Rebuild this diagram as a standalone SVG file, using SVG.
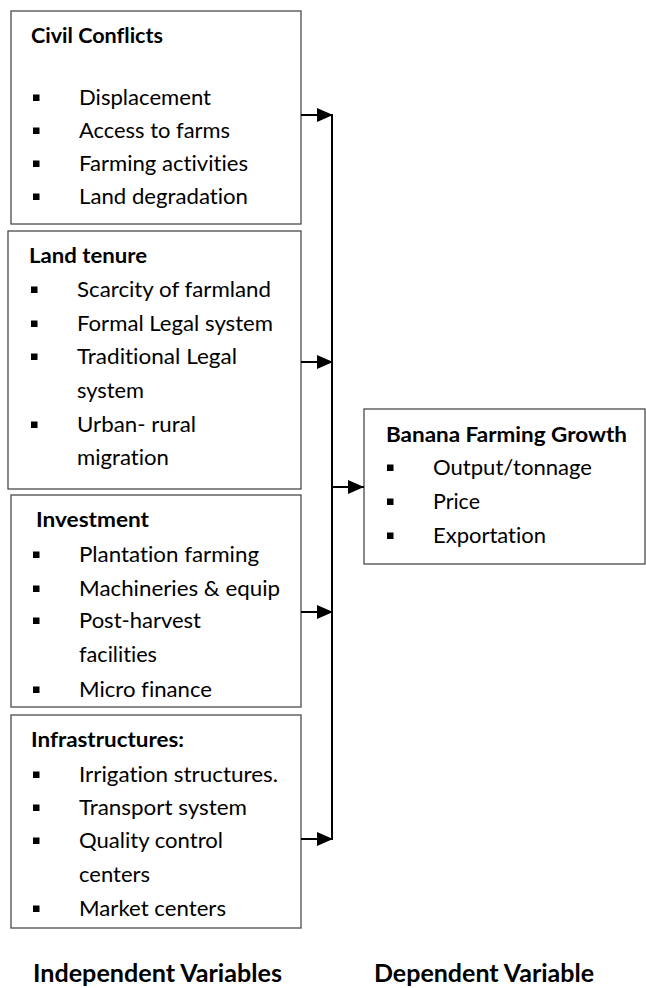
<svg xmlns="http://www.w3.org/2000/svg" width="646" height="988" viewBox="0 0 646 988">
  <defs>
    <style>
      .box { fill: #ffffff; stroke: #4a4a4a; stroke-width: 1.3; }
      .t { font-family: Lato, "Open Sans", "Liberation Sans", sans-serif; font-size: 20.5px; fill: #000; font-variant-ligatures: none; font-feature-settings: "liga" 0, "clig" 0; }
      .b { font-weight: bold; }
      .lbl { font-family: Lato, "Open Sans", "Liberation Sans", sans-serif; font-size: 25px; font-weight: bold; fill: #000; font-variant-ligatures: none; font-feature-settings: "liga" 0, "clig" 0; }
      .bul { fill: #000; }
      .conn { stroke: #000; stroke-width: 2; fill: none; }
    </style>
    <marker id="arrow" markerUnits="userSpaceOnUse" markerWidth="16" markerHeight="14" refX="16" refY="7" orient="auto">
      <path d="M0,0 L16,7 L0,14 Z" fill="#000"/>
    </marker>
  </defs>
  <rect width="646" height="988" fill="#ffffff"/>

  <g id="civil-conflicts">
    <rect class="box" x="11" y="11" width="290" height="213"/>
    <text class="t b" x="31" y="43" textLength="132" lengthAdjust="spacingAndGlyphs">Civil Conflicts</text>
    <rect class="bul" x="33" y="94.5" width="6.5" height="6.5"/>
    <text class="t" x="79" y="105" textLength="132" lengthAdjust="spacingAndGlyphs">Displacement</text>
    <rect class="bul" x="33" y="127.5" width="6.5" height="6.5"/>
    <text class="t" x="79" y="138" textLength="151" lengthAdjust="spacingAndGlyphs">Access to farms</text>
    <rect class="bul" x="33" y="160.5" width="6.5" height="6.5"/>
    <text class="t" x="79" y="171" textLength="169" lengthAdjust="spacingAndGlyphs">Farming activities</text>
    <rect class="bul" x="33" y="193.5" width="6.5" height="6.5"/>
    <text class="t" x="79" y="204" textLength="169" lengthAdjust="spacingAndGlyphs">Land degradation</text>
  </g>

  <g id="land-tenure">
    <rect class="box" x="8" y="231" width="293" height="258"/>
    <text class="t b" x="29" y="263" textLength="118" lengthAdjust="spacingAndGlyphs">Land tenure</text>
    <rect class="bul" x="31" y="286.5" width="6.5" height="6.5"/>
    <text class="t" x="77" y="297" textLength="194" lengthAdjust="spacingAndGlyphs">Scarcity of farmland</text>
    <rect class="bul" x="31" y="320.5" width="6.5" height="6.5"/>
    <text class="t" x="77" y="331" textLength="196" lengthAdjust="spacingAndGlyphs">Formal Legal system</text>
    <rect class="bul" x="31" y="353.5" width="6.5" height="6.5"/>
    <text class="t" x="77" y="364" textLength="160" lengthAdjust="spacingAndGlyphs">Traditional Legal</text>
    <text class="t" x="77" y="398" textLength="67" lengthAdjust="spacingAndGlyphs">system</text>
    <rect class="bul" x="31" y="421.5" width="6.5" height="6.5"/>
    <text class="t" x="77" y="432" textLength="119" lengthAdjust="spacingAndGlyphs">Urban- rural</text>
    <text class="t" x="77" y="465" textLength="92" lengthAdjust="spacingAndGlyphs">migration</text>
  </g>

  <g id="investment">
    <rect class="box" x="11" y="495" width="290" height="212"/>
    <text class="t b" x="36" y="527" textLength="113" lengthAdjust="spacingAndGlyphs">Investment</text>
    <rect class="bul" x="33" y="551.5" width="6.5" height="6.5"/>
    <text class="t" x="79" y="562" textLength="180" lengthAdjust="spacingAndGlyphs">Plantation farming</text>
    <rect class="bul" x="33" y="585.5" width="6.5" height="6.5"/>
    <text class="t" x="79" y="596" textLength="201" lengthAdjust="spacingAndGlyphs">Machineries &amp; equip</text>
    <rect class="bul" x="33" y="617.5" width="6.5" height="6.5"/>
    <text class="t" x="79" y="628" textLength="122" lengthAdjust="spacingAndGlyphs">Post-harvest</text>
    <text class="t" x="79" y="662" textLength="78" lengthAdjust="spacingAndGlyphs">facilities</text>
    <rect class="bul" x="33" y="686.5" width="6.5" height="6.5"/>
    <text class="t" x="79" y="697" textLength="133" lengthAdjust="spacingAndGlyphs">Micro finance</text>
  </g>

  <g id="infrastructures">
    <rect class="box" x="11" y="715" width="290" height="213"/>
    <text class="t b" x="31" y="747" textLength="153" lengthAdjust="spacingAndGlyphs">Infrastructures:</text>
    <rect class="bul" x="33" y="771.5" width="6.5" height="6.5"/>
    <text class="t" x="79" y="782" textLength="199" lengthAdjust="spacingAndGlyphs">Irrigation structures.</text>
    <rect class="bul" x="33" y="804.5" width="6.5" height="6.5"/>
    <text class="t" x="79" y="815" textLength="168" lengthAdjust="spacingAndGlyphs">Transport system</text>
    <rect class="bul" x="33" y="837.5" width="6.5" height="6.5"/>
    <text class="t" x="79" y="848" textLength="144" lengthAdjust="spacingAndGlyphs">Quality control</text>
    <text class="t" x="79" y="882" textLength="71" lengthAdjust="spacingAndGlyphs">centers</text>
    <rect class="bul" x="33" y="905.5" width="6.5" height="6.5"/>
    <text class="t" x="79" y="916" textLength="147" lengthAdjust="spacingAndGlyphs">Market centers</text>
  </g>

  <g id="banana-farming-growth">
    <rect class="box" x="364" y="409" width="281" height="155"/>
    <text class="t b" x="386" y="442" textLength="241" lengthAdjust="spacingAndGlyphs">Banana Farming Growth</text>
    <rect class="bul" x="387" y="464.5" width="6.5" height="6.5"/>
    <text class="t" x="433" y="475" textLength="159" lengthAdjust="spacingAndGlyphs">Output/tonnage</text>
    <rect class="bul" x="387" y="498.5" width="6.5" height="6.5"/>
    <text class="t" x="433" y="509" textLength="47" lengthAdjust="spacingAndGlyphs">Price</text>
    <rect class="bul" x="387" y="532.5" width="6.5" height="6.5"/>
    <text class="t" x="433" y="543" textLength="113" lengthAdjust="spacingAndGlyphs">Exportation</text>
  </g>

  <g id="connectors">
    <line class="conn" x1="332" y1="114" x2="332" y2="840"/>
    <line class="conn" x1="301" y1="115" x2="333" y2="115" marker-end="url(#arrow)"/>
    <line class="conn" x1="301" y1="362" x2="333" y2="362" marker-end="url(#arrow)"/>
    <line class="conn" x1="301" y1="612" x2="333" y2="612" marker-end="url(#arrow)"/>
    <line class="conn" x1="301" y1="839" x2="333" y2="839" marker-end="url(#arrow)"/>
    <line class="conn" x1="332" y1="487" x2="364" y2="487" marker-end="url(#arrow)"/>
  </g>

  <g id="labels">
    <text class="lbl" x="33" y="982" textLength="249" lengthAdjust="spacingAndGlyphs">Independent Variables</text>
    <text class="lbl" x="374" y="982" textLength="220" lengthAdjust="spacingAndGlyphs">Dependent Variable</text>
  </g>
</svg>
